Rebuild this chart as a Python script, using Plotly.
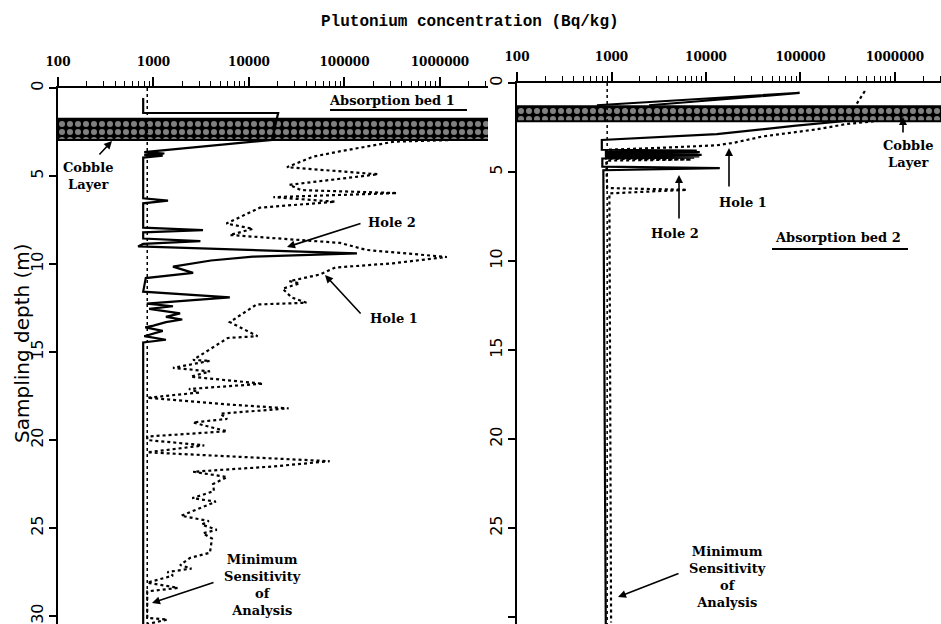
import plotly.graph_objects as go

# ---------------- data ----------------
tick_values = [100, 1000, 10000, 100000, 1000000]
tick_labels = ["100", "1000", "10000", "100000", "1000000"]
depth_ticks = [0, 5, 10, 15, 20, 25, 30]

# Absorption bed 1
bed1_min_depth = [0, 30.45]
bed1_min_conc = [860, 860]
bed1_cobble_depth = [1.75, 2.95]

bed1_hole2_depth = [0.57, 1.42, 1.42, 2.95, 3.64, 3.72, 3.8, 3.85, 3.95, 6.27, 6.4, 6.55,
                    7.93, 8.07, 8.2, 8.55, 8.7, 8.85, 9.0, 9.4, 9.58, 9.8, 10.15, 10.5,
                    10.8, 11.57, 11.9, 12.25, 12.4, 12.55, 12.8, 13.0, 13.15, 13.3, 13.5,
                    13.6, 13.8, 14.1, 14.3, 14.45, 30.45]
bed1_hole2_conc = [780, 780, 20200, 17400, 800, 1300, 800, 1250, 780, 780, 1420, 780,
                   780, 3300, 780, 780, 3100, 780, 690, 135000, 11000, 4000, 1600, 2600,
                   830, 780, 6300, 850, 1600, 900, 1900, 1350, 2000, 1350, 1000,
                   820, 1250, 800, 1350, 780, 780]

bed1_hole1_depth = [2.95, 3.05, 3.6, 3.9, 4.5, 4.9, 5.5, 5.8, 5.97, 6.2, 6.46, 6.8, 7.7,
                    8.0, 8.35, 8.8, 9.2, 9.6, 9.96, 10.2, 10.6, 10.97, 11.1, 11.4, 11.9,
                    12.2, 12.3, 13.3, 14.1, 14.2, 15.45, 15.5, 15.9, 16.1, 16.4, 16.8,
                    17.1, 17.3, 17.6, 18.0, 18.2, 18.5, 18.8, 19.0, 19.3, 19.5, 19.8,
                    20.0, 20.3, 20.7, 21.2, 21.5, 21.8, 22.1, 22.5, 22.9, 23.3, 23.5,
                    24.3, 24.6, 24.8, 25.1, 25.3, 25.6, 26.4, 26.7, 27.1, 27.3, 27.5,
                    27.7, 28.1, 28.4, 28.6, 30.1, 30.2, 30.45]
bed1_hole1_conc = [1400000, 330000, 89000, 47000, 25000, 225000, 26500, 35000, 355000,
                   18000, 80000, 13000, 5800, 11000, 6300, 90000, 170000, 1180000,
                   320000, 80000, 55000, 26500, 34000, 22500, 28000, 40000, 12000, 6300,
                   12300, 6000, 2600, 3900, 1600, 3900, 2450, 14000, 2350, 3000, 860,
                   6900, 26000, 5000, 5900, 2600, 4200, 5900, 860, 860, 3400, 860,
                   70000, 18000, 2600, 5900, 4200, 4300, 2550, 4500, 1950, 3800, 3200,
                   4600, 3300, 4100, 3900, 2400, 1900, 2500, 1400, 1600, 860, 1800, 860,
                   860, 1400, 860]

# Absorption bed 2
bed2_min_depth = [0, 30.39]
bed2_min_conc = [900, 900]
bed2_cobble_depth = [1.3, 2.15]

bed2_hole2_depth = [1.25, 0.55, 0.66, 1.25, None,
                    2.15, 2.4, 2.87, 3.2, 3.75, 3.8, 3.84, 3.88, 3.92, 3.96, 4.0, 4.04,
                    4.08, 4.12, 4.16, 4.2, 4.24, 4.7, 4.78, 4.9, 30.39]
bed2_hole2_conc = [700, 98000, 60000, 2500, None,
                   280000, 90000, 13000, 790, 790, 8000, 850, 8600, 850, 8200, 850, 9000,
                   850, 8500, 850, 7500, 800, 800, 14000, 820, 870]

bed2_hole1_depth = [0.45, 1.3, None,
                    2.15, 2.3, 2.6, 3.0, 3.35, 3.5, 3.65, 3.75, 4.25, 4.3, 4.36, 5.9, 6.0,
                    6.2, 30.3]
bed2_hole1_conc = [480000, 380000, None,
                   600000, 310000, 150000, 40000, 20000, 13000, 3000, 880, 880, 7000, 880,
                   900, 6300, 950, 990]

# ---------------- figure ----------------
W, H, TOP = 941, 624, 80


def P(px, py):
    return px / W, (H - py) / (H - TOP)


fig = go.Figure()

band_x = [100, 4000000, 4000000, 100, 100]
pattern = dict(shape=".", fgcolor="white", bgcolor="black", size=8, solidity=0.45)

for xa, ya, cd in [("x", "y", bed1_cobble_depth), ("x2", "y2", bed2_cobble_depth)]:
    fig.add_trace(go.Scatter(
        x=band_x, y=[cd[0], cd[0], cd[1], cd[1], cd[0]], xaxis=xa, yaxis=ya,
        mode="lines", fill="toself", fillcolor="black", fillpattern=pattern,
        line=dict(color="black", width=2), hoverinfo="skip", showlegend=False))

traces = [
    ("x", "y", bed1_min_conc, bed1_min_depth, "dot", 1.5),
    ("x", "y", bed1_hole1_conc, bed1_hole1_depth, "dot", 2.2),
    ("x", "y", bed1_hole2_conc, bed1_hole2_depth, "solid", 2.2),
    ("x2", "y2", bed2_min_conc, bed2_min_depth, "dot", 1.5),
    ("x2", "y2", bed2_hole1_conc, bed2_hole1_depth, "dot", 2.2),
    ("x2", "y2", bed2_hole2_conc, bed2_hole2_depth, "solid", 2.2),
]
for xa, ya, xs, ys, dash, w in traces:
    fig.add_trace(go.Scatter(
        x=xs, y=ys, xaxis=xa, yaxis=ya, mode="lines", connectgaps=False,
        line=dict(color="black", width=w, dash=dash), hoverinfo="skip", showlegend=False))

minor_vals = [m * 10 ** e for e in range(2, 7) for m in range(2, 10)]


def xaxis_cfg(dom, anchor, rng):
    return dict(
        type="log", range=rng, domain=dom, anchor=anchor, side="top", automargin=False,
        showline=True, linecolor="black", linewidth=1.8,
        tickmode="array", tickvals=tick_values, ticktext=tick_labels,
        ticks="outside", ticklen=9, tickwidth=1.5, tickcolor="black",
        ticklabelstandoff=6,
        minor=dict(tickmode="array", tickvals=minor_vals, ticks="outside",
                   ticklen=5, tickwidth=1.2, tickcolor="black", showgrid=False),
        showgrid=False, zeroline=False,
        tickfont=dict(family="DejaVu Serif", size=12, color="black", weight="bold"),
    )


def yaxis_cfg(dom, anchor, rng):
    return dict(
        range=rng, domain=dom, anchor=anchor, automargin=False,
        showline=True, linecolor="black", linewidth=1.8,
        tickmode="array", tickvals=depth_ticks,
        ticks="outside", ticklen=7, tickwidth=1.5, tickcolor="black",
        tickangle=-90, showgrid=False, zeroline=False,
        tickfont=dict(family="DejaVu Sans", size=16, color="black"),
    )


fig.update_layout(
    width=W, height=H,
    margin=dict(l=0, r=0, t=TOP, b=0, autoexpand=False),
    paper_bgcolor="white", plot_bgcolor="white",
    xaxis=xaxis_cfg([58 / W, 488 / W], "y", [2, 6.503]),
    yaxis=yaxis_cfg([0, (H - 88) / (H - TOP)], "x", [30.45, 0]),
    xaxis2=xaxis_cfg([517 / W, 1.0], "y2", [2, 6.487]),
    yaxis2=yaxis_cfg([0, (H - 83) / (H - TOP)], "x2", [30.39, 0]),
    font=dict(family="DejaVu Serif", color="black"),
)

ann_font = dict(family="DejaVu Serif", size=13, color="black", weight="bold")
texts = [
    ("Cobble<br>Layer", 88, 176),
    ("Absorption bed 1", 392, 101),
    ("Hole 2", 392, 223),
    ("Hole 1", 394, 318),
    ("Minimum<br>Sensitivity<br>of<br>Analysis", 262, 585),
    ("Cobble<br>Layer", 908, 154),
    ("Hole 1", 743, 202),
    ("Hole 2", 675, 233),
    ("Absorption bed 2", 838, 238),
    ("Minimum<br>Sensitivity<br>of<br>Analysis", 727, 577),
]
for t, px, py in texts:
    x, y = P(px, py)
    fig.add_annotation(x=x, y=y, xref="paper", yref="paper", text=t, showarrow=False,
                       font=ann_font, align="center", xanchor="center", yanchor="middle")

arrows = [
    ((112, 141), (98, 156)),
    ((287, 247), (362, 223)),
    ((325, 275), (362, 315)),
    ((152, 603), (215, 582)),
    ((903, 117), (903, 134)),
    ((729, 148), (729, 188)),
    ((679, 175), (679, 220)),
    ((618, 597), (680, 573)),
]
for (tx, ty), (sx, sy) in arrows:
    x, y = P(tx, ty)
    fig.add_annotation(x=x, y=y, xref="paper", yref="paper", text="", showarrow=True,
                       ax=sx - tx, ay=sy - ty, arrowhead=2, arrowsize=1,
                       arrowwidth=1.6, arrowcolor="black")

for x0, x1, py in [(330, 467, 110), (772, 908, 249)]:
    a, b = P(x0, py)
    c, d = P(x1, py)
    fig.add_shape(type="line", xref="paper", yref="paper", x0=a, y0=b, x1=c, y1=d,
                  line=dict(color="black", width=1.8))

tx, ty = P(470, 22)
fig.add_annotation(x=tx, y=ty, xref="paper", yref="paper",
                   text="Plutonium concentration (Bq/kg)", showarrow=False,
                   xanchor="center", yanchor="middle",
                   font=dict(family="Liberation Mono", size=16, color="black", weight="bold"))
sx, sy = P(22, 343)
fig.add_annotation(x=sx, y=sy, xref="paper", yref="paper", text="Sampling depth (m)",
                   showarrow=False, textangle=-90, xanchor="center", yanchor="middle",
                   font=dict(family="DejaVu Sans", size=20, color="black"))

fig.write_html("out.html", config={"displayModeBar": False},
               post_script="document.body.style.margin='0';document.body.style.overflow='hidden';")
